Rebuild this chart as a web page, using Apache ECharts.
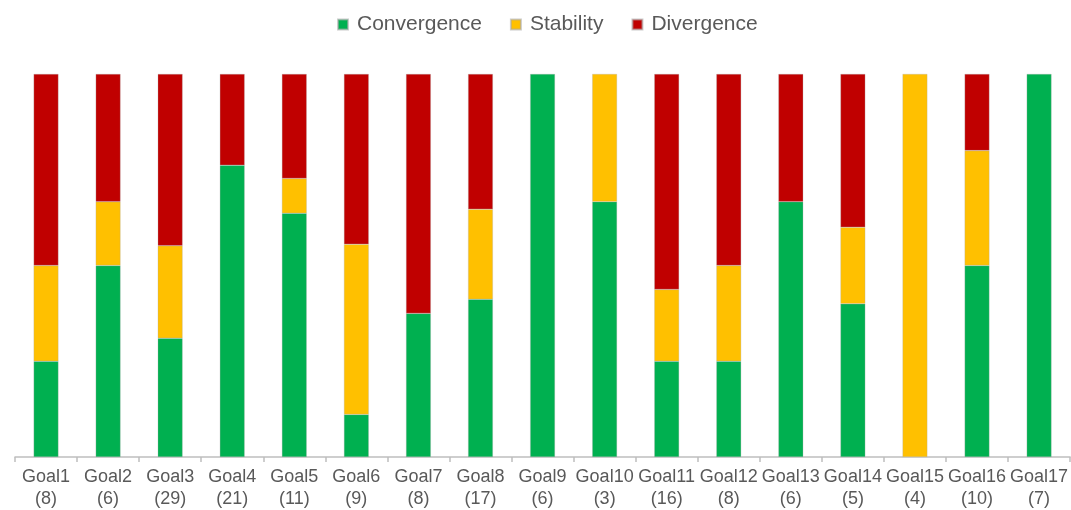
<!DOCTYPE html>
<html><head><meta charset="utf-8">
<script src="https://cdn.jsdelivr.net/npm/echarts@6/dist/echarts.min.js"></script>
<style>html,body{margin:0;padding:0;background:#fff}#c{width:1071px;height:510px}</style>
</head><body><div id="c"></div>
<script>
var goals = ['Goal1','Goal2','Goal3','Goal4','Goal5','Goal6','Goal7','Goal8','Goal9','Goal10','Goal11','Goal12','Goal13','Goal14','Goal15','Goal16','Goal17'];
var totals = [8,6,29,21,11,9,8,17,6,3,16,8,6,5,4,10,7];
var convergence = [2,3,9,16,7,1,3,7,6,2,4,2,4,2,0,5,7];
var stability   = [2,1,7,0,1,4,0,4,0,1,3,2,0,1,4,3,0];
var divergence  = [4,2,13,5,3,4,5,6,0,0,9,4,2,2,0,2,0];

function share(arr){ return arr.map(function(v,i){ return v === 0 ? '-' : v / totals[i] * 100; }); }
var cats = goals.map(function(g,i){ return g + '\n(' + totals[i] + ')'; });

var chart = echarts.init(document.getElementById('c'));
var font = 'Liberation Sans, Arial, sans-serif';
function s(name, data, color){
  return { name: name, type: 'bar', stack: 'all', data: share(data), barWidth: '40%',
    itemStyle: { color: color, borderColor: 'rgba(170,170,170,0.6)', borderWidth: 0.5 } };
}
chart.setOption({
  animation: false,
  legend: { top: 9, left: 332, itemWidth: 10, itemHeight: 10, itemGap: 28, icon: 'rect',
    textStyle: { fontFamily: font, fontSize: 21, color: '#595959', padding: [0,0,0,4] } },
  grid: { left: 15, right: -3, top: 74, bottom: 53 },
  xAxis: { type: 'category', data: cats,
    axisLine: { lineStyle: { color: '#bfbfbf', width: 1.5 } },
    axisTick: { show: true, length: 5, lineStyle: { color: '#bfbfbf', width: 1.5 } },
    axisLabel: { interval: 0, fontFamily: font, fontSize: 18, color: '#595959', lineHeight: 22, margin: 9 } },
  yAxis: { type: 'value', min: 0, max: 100, show: false, splitLine: { show: false } },
  series: [ s('Convergence', convergence, '#00B050'), s('Stability', stability, '#FFC000'), s('Divergence', divergence, '#C00000') ]
});
</script></body></html>
